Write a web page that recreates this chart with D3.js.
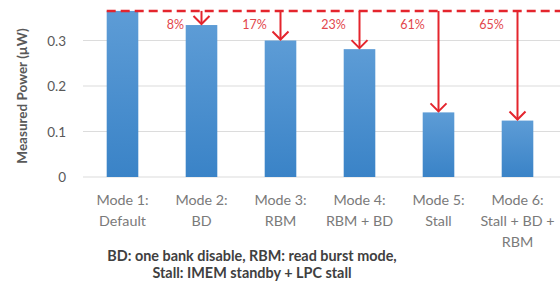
<!DOCTYPE html>
<html>
<head>
<meta charset="utf-8">
<script src="https://cdn.jsdelivr.net/npm/d3@7"></script>
<style>
body { margin: 0; background: #fff; }
svg text { font-family: Lato, "Open Sans", sans-serif; }
</style>
</head>
<body>
<div id="chart"></div>
<script>
// data
var modes = ["Mode 1", "Mode 2", "Mode 3", "Mode 4", "Mode 5", "Mode 6"];
var modeLabels = [
	["Mode 1:", "Default"],
	["Mode 2:", "BD"],
	["Mode 3:", "RBM"],
	["Mode 4:", "RBM + BD"],
	["Mode 5:", "Stall"],
	["Mode 6:", "Stall + BD +", "RBM"]
];
var power = [0.365, 0.334, 0.300, 0.281, 0.142, 0.124];
var savings = ["", "8%", "17%", "23%", "61%", "65%"];
var yTicks = [0, 0.1, 0.2, 0.3];
var footnote = ["BD: one bank disable, RBM: read burst mode,", "Stall: IMEM standby + LPC stall"];

var width = 560, height = 288;
var svg = d3.select("#chart").append("svg").attr("width", width).attr("height", height);

var defs = svg.append("defs");
var grad = defs.append("linearGradient").attr("id", "barGrad")
	.attr("x1", 0).attr("y1", 0).attr("x2", 0).attr("y2", 1);
grad.append("stop").attr("offset", "0%").attr("stop-color", "#5d9cd6");
grad.append("stop").attr("offset", "100%").attr("stop-color", "#3a83c7");

var x = d3.scaleBand().domain(modes).range([83, 557]).paddingInner(0.6).paddingOuter(0.3);
var y = d3.scaleLinear().domain([0, 0.3]).range([177, 40.5]);

// gridlines
svg.append("g").selectAll("line").data(yTicks).enter().append("line")
	.attr("x1", 83).attr("x2", 560)
	.attr("y1", function(d) { return y(d); }).attr("y2", function(d) { return y(d); })
	.attr("stroke", "#dcdcdc").attr("stroke-width", 1.2);

// y axis labels
var yAxis = d3.axisLeft(y).tickValues(yTicks).tickSize(0).tickPadding(0)
	.tickFormat(function(d) { return d === 0 ? "0" : d3.format(".1f")(d); });
var yg = svg.append("g").attr("transform", "translate(66,0)").call(yAxis);
yg.select(".domain").remove();
yg.selectAll("text").attr("font-size", 13.5).attr("fill", "#595959").attr("dy", "0.35em")
	.style("font-family", "Lato, sans-serif");

// y title
svg.append("text").attr("transform", "translate(27,96) rotate(-90)")
	.attr("text-anchor", "middle").attr("font-size", 13.5).attr("font-weight", "bold")
	.attr("fill", "#595959").text("Measured Power (\u00b5W)");

// bars
svg.append("g").selectAll("rect").data(power).enter().append("rect")
	.attr("x", function(d, i) { return x(modes[i]); })
	.attr("width", x.bandwidth())
	.attr("y", function(d) { return y(d); })
	.attr("height", function(d) { return y(0) - y(d); })
	.attr("fill", "url(#barGrad)");

// x labels
var xl = svg.append("g").selectAll("text").data(modeLabels).enter().append("text")
	.attr("text-anchor", "middle").attr("font-size", 14.3).attr("fill", "#7a7a7a")
	.attr("x", function(d, i) { return x(modes[i]) + x.bandwidth() / 2; })
	.attr("y", 205);
xl.selectAll("tspan").data(function(d) { return d; }).enter().append("tspan")
	.attr("x", function() { return d3.select(this.parentNode).attr("x"); })
	.attr("dy", function(d, j) { return j === 0 ? 0 : 21; })
	.text(function(d) { return d; });

// baseline dashed reference
var red = "#e4252d";
var refY = y(power[0]);
svg.append("line").attr("x1", x(modes[0])).attr("x2", width)
	.attr("y1", refY).attr("y2", refY)
	.attr("stroke", red).attr("stroke-width", 2.6).attr("stroke-dasharray", "9,5");

// arrows
var arrows = svg.append("g");
power.forEach(function(d, i) {
	if (i === 0) return;
	var cx = x(modes[i]) + x.bandwidth() / 2;
	var top = y(d);
	arrows.append("line").attr("x1", cx).attr("x2", cx).attr("y1", refY).attr("y2", top - 1)
		.attr("stroke", red).attr("stroke-width", 2);
	arrows.append("path").attr("d", "M" + (cx - 8) + "," + (top - 9) + "L" + cx + "," + (top - 1) + "L" + (cx + 8) + "," + (top - 9))
		.attr("fill", "none").attr("stroke", red).attr("stroke-width", 2);
	arrows.append("text").attr("x", cx - 26).attr("y", refY + 18)
		.attr("text-anchor", "middle").attr("font-size", 12.5).attr("fill", "#e2464c")
		.text(savings[i]);
});

// footnote
svg.append("g").selectAll("text").data(footnote).enter().append("text")
	.attr("x", 252).attr("y", function(d, i) { return 261 + i * 17; })
	.attr("text-anchor", "middle").attr("font-size", 14.4).attr("font-weight", "bold")
	.attr("fill", "#404040").text(function(d) { return d; });
</script>
</body>
</html>
